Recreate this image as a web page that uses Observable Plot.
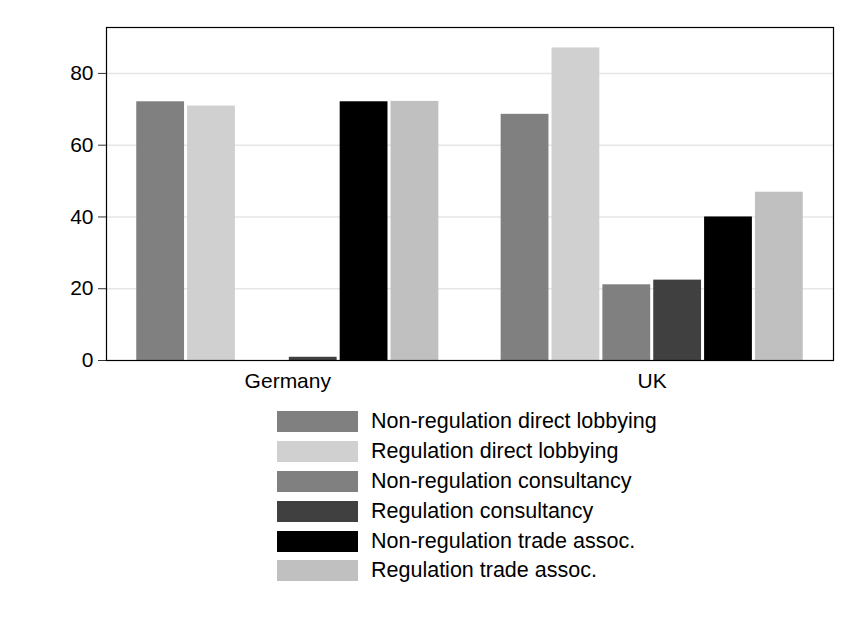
<!DOCTYPE html>
<html><head><meta charset="utf-8">
<script src="https://cdn.jsdelivr.net/npm/d3@7"></script>
<script src="https://cdn.jsdelivr.net/npm/@observablehq/plot@0.6"></script>
<style>
body{margin:0;background:#fff;font-family:"Liberation Sans",Arial,sans-serif;}
#chart{position:relative;width:845px;height:400px;}
#chart svg{position:absolute;left:0;top:0;}
#legend{padding-left:277px;margin-top:7px;}
.row{display:flex;align-items:center;height:29.8px;font-size:21.5px;color:#000;}
.sw{width:81px;height:21px;margin-right:13px;flex:none;}
</style></head><body>
<div id="chart"></div><div id="legend"></div>
<script>
const countries = ["Germany", "UK"];
const series = [
  "Non-regulation direct lobbying",
  "Regulation direct lobbying",
  "Non-regulation consultancy",
  "Regulation consultancy",
  "Non-regulation trade assoc.",
  "Regulation trade assoc."
];
const germanyValues = [72.1, 70.9, 0, 0.9, 72.1, 72.2];
const ukValues = [68.6, 87.1, 21.1, 22.4, 40.0, 46.9];
const yTicks = [0, 20, 40, 60, 80];
const yMax = 92.8;
const colors = ["#808080", "#d0d0d0", "#808080", "#404040", "#000000", "#c0c0c0"];

const valuesByCountry = {Germany: germanyValues, UK: ukValues};
const rows = countries.flatMap(c => series.map((s, j) => ({country: c, series: s, value: valuesByCountry[c][j]})));

const font = '"Liberation Sans", Arial, sans-serif';
const common = {
  width: 845, height: 400,
  marginLeft: 106, marginRight: 12, marginTop: 27, marginBottom: 40,
  style: {background: "transparent", fontFamily: font, fontSize: "21px", color: "#000"}
};

// Layer 1: grid lines (behind bars)
const grid = Plot.plot({
  ...common,
  y: {domain: [0, yMax], axis: null},
  marks: [Plot.gridY(yTicks.filter(d => d > 0), {stroke: "#e6e6e6", strokeOpacity: 1, strokeWidth: 1.6})]
});

// Layer 2: grouped bars
const bars = Plot.plot({
  ...common,
  y: {domain: [0, yMax], axis: null},
  fx: {domain: countries, paddingInner: 0.171, paddingOuter: 0.083, round: false, label: null, axis: "bottom", tickSize: 0, tickPadding: 13},
  x: {domain: series, axis: null, paddingInner: 0.06, paddingOuter: 0, round: false},
  color: {domain: series, range: colors},
  marks: [Plot.barY(rows, {fx: "country", x: "series", y: "value", fill: "series"})]
});

// Layer 3: frame and y axis
const frame = Plot.plot({
  ...common,
  y: {domain: [0, yMax]},
  marks: [
    Plot.frame({stroke: "#000", strokeWidth: 1.2}),
    Plot.axisY(yTicks, {tickSize: 8, tickPadding: 5, label: null, stroke: "#333"})
  ]
});

const chart = document.getElementById("chart");
chart.append(grid, bars, frame);

const legend = d3.select("#legend");
series.forEach((s, i) => {
  const r = legend.append("div").attr("class", "row");
  r.append("div").attr("class", "sw").style("background", colors[i]);
  r.append("span").text(s);
});
</script>
</body></html>
